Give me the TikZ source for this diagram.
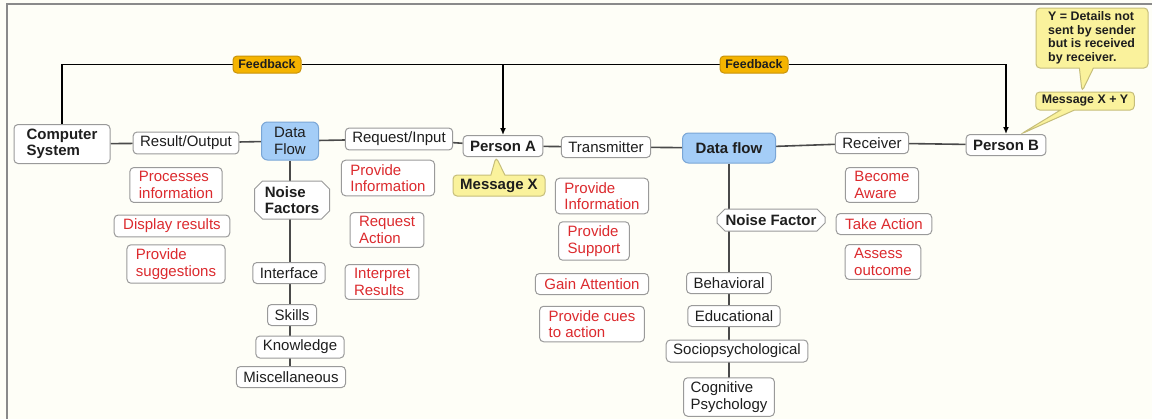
\documentclass[tikz,border=0pt]{standalone}
\usepackage{fontspec}
\setmainfont{Liberation Sans}
\usetikzlibrary{shapes.misc,shapes.callouts,arrows.meta}
\definecolor{paper}{HTML}{FEFEF7}
\definecolor{frame}{HTML}{8A8A8A}
\definecolor{ink}{HTML}{1E1E1E}
\definecolor{edge}{HTML}{9A9A9A}
\definecolor{alert}{HTML}{DC2A2E}
\definecolor{flowfill}{HTML}{A4CDF7}
\definecolor{flowedge}{HTML}{7AA6D6}
\definecolor{feedfill}{HTML}{F5B400}
\definecolor{feededge}{HTML}{C8930A}
\definecolor{notefill}{HTML}{FAF29C}
\definecolor{noteedge}{HTML}{C6BE7A}
\definecolor{wirecol}{HTML}{4A4A4A}
\pgfdeclarelayer{bg}
\pgfdeclarelayer{wires}
\pgfsetlayers{bg,wires,main}
\begin{document}
\begin{tikzpicture}[x=0.5pt,y=-0.5pt,
	every node/.style={font=\fontsize{7.5}{8.25}\selectfont,text=ink},
	box/.style={draw=edge,fill=white,line width=0.5pt,rounded corners=2pt,inner xsep=3.5pt,inner ysep=2pt,minimum height=10.5pt,align=left},
	head/.style={box,font=\fontsize{7.5}{8.25}\selectfont\bfseries},
	task/.style={box,text=alert,inner xsep=4.5pt},
	flow/.style={box,fill=flowfill,draw=flowedge,rounded corners=3pt},
	noise/.style={chamfered rectangle,chamfered rectangle xsep=2pt,chamfered rectangle ysep=2pt,draw=edge,fill=white,line width=0.5pt,inner xsep=2pt,inner ysep=0.5pt,align=left,font=\fontsize{7.5}{8.25}\selectfont\bfseries},
	feed/.style={draw=feededge,fill=feedfill,line width=0.5pt,rounded corners=2pt,minimum width=34pt,minimum height=8.5pt,inner sep=0pt,font=\fontsize{6.2}{7}\selectfont\bfseries},
	note/.style={rectangle callout,draw=noteedge,fill=notefill,line width=0.5pt,rounded corners=2pt,align=left,inner xsep=3pt,inner ysep=1.5pt,callout pointer width=7pt},
	link/.style={draw=wirecol,line width=0.8pt},
	wire/.style={draw=black,line width=0.7pt}]
	\useasboundingbox (0,0) rectangle (1152,419);
	\begin{pgfonlayer}{bg}
		\fill[paper] (0,0) rectangle (1152,419);
		\draw[frame,line width=0.6pt] (7,419) -- (7,4) -- (1152,4);
	\end{pgfonlayer}
	\node[head,minimum width=48pt,minimum height=19.5pt] (cs) at (62,144) {Computer\\System};
	\node[box] (res) at (186,143) {Result/Output};
	\node[flow,minimum width=28.5pt,minimum height=19pt] (df1) at (290,141) {Data\\Flow};
	\node[box] (req) at (399,139) {Request/Input};
	\node[head] (pa) at (503,146) {Person A};
	\node[box] (tx) at (606,147) {Transmitter};
	\node[flow,font=\fontsize{7.5}{8.25}\selectfont\bfseries,minimum width=46.5pt,minimum height=15pt] (df2) at (729,148) {Data flow};
	\node[box] (rcv) at (872,143) {Receiver};
	\node[head] (pb) at (1006,145) {Person B};
	\node[feed] (fb1) at (267,64.5) {Feedback};
	\node[feed] (fb2) at (754,64.5) {Feedback};
	\node[note,font=\fontsize{7.5}{8.25}\selectfont\bfseries,minimum width=46pt,minimum height=10.5pt,callout absolute pointer={([xshift=-3.5pt]pa.south)}] (msgx) at (499,185.5) {Message X};
	\node[note,font=\fontsize{6.2}{7}\selectfont\bfseries,minimum width=49pt,minimum height=9pt,callout absolute pointer={([xshift=7.5pt]pb.north)}] (msgxy) at (1085,101) {Message X + Y};
	\node[note,font=\fontsize{6.2}{6.75}\selectfont\bfseries,minimum width=56pt,minimum height=30pt,callout absolute pointer={([xshift=-1.5pt]msgxy.north)}] (ynote) at (1092,38) {Y = Details not\\sent by sender\\but is received\\by receiver.};
	\node[noise,minimum width=37.5pt,minimum height=19pt] (nf1) at (292,200) {Noise\\Factors};
	\node[box] (iface) at (289,273) {Interface};
	\node[box] (skills) at (292,315) {Skills};
	\node[box] (know) at (300,347) {Knowledge};
	\node[box] (misc) at (291,377) {Miscellaneous};
	\node[task] (procinfo) at (176,185) {Processes\\information};
	\node[task] (disp) at (172,226) {Display results};
	\node[task] (sugg) at (176,264) {Provide\\suggestions};
	\node[task] (provinfo1) at (388,178) {Provide\\Information};
	\node[task] (reqact) at (387,230) {Request\\Action};
	\node[task] (interp) at (382,282) {Interpret\\Results};
	\node[task] (provinfo2) at (602,196) {Provide\\Information};
	\node[task] (support) at (594,241) {Provide\\Support};
	\node[task] (attn) at (592,284) {Gain Attention};
	\node[task] (cues) at (592,324) {Provide cues\\to action};
	\node[task] (aware) at (882,185) {Become\\Aware};
	\node[task] (act) at (884,224) {Take Action};
	\node[task] (assess) at (883,262) {Assess\\outcome};
	\node[noise,minimum width=54pt,minimum height=11pt] (nf2) at (771,220) {Noise Factor};
	\node[box] (behav) at (729,283) {Behavioral};
	\node[box] (edu) at (734,316) {Educational};
	\node[box] (socio) at (737,351) {Sociopsychological};
	\node[box] (cog) at (729,397) {Cognitive\\Psychology};
	\begin{pgfonlayer}{wires}
		\draw[link] (cs) -- (res) -- (df1) -- (req) -- (pa) -- (tx) -- (df2) -- (rcv) -- (pb);
		\draw[link] (df1) -- (df1 |- misc);
		\draw[link] (df2) -- (df2 |- cog);
		\draw[wire] (cs.north) |- (fb1) -- (fb2);
		\draw[wire,-{Latex[length=3.5pt,width=3pt]}] (fb2) -| (pb.north);
		\draw[wire,-{Latex[length=3.5pt,width=3pt]}] (pa.north |- fb1) -- (pa.north);
	\end{pgfonlayer}
\end{tikzpicture}
\end{document}
